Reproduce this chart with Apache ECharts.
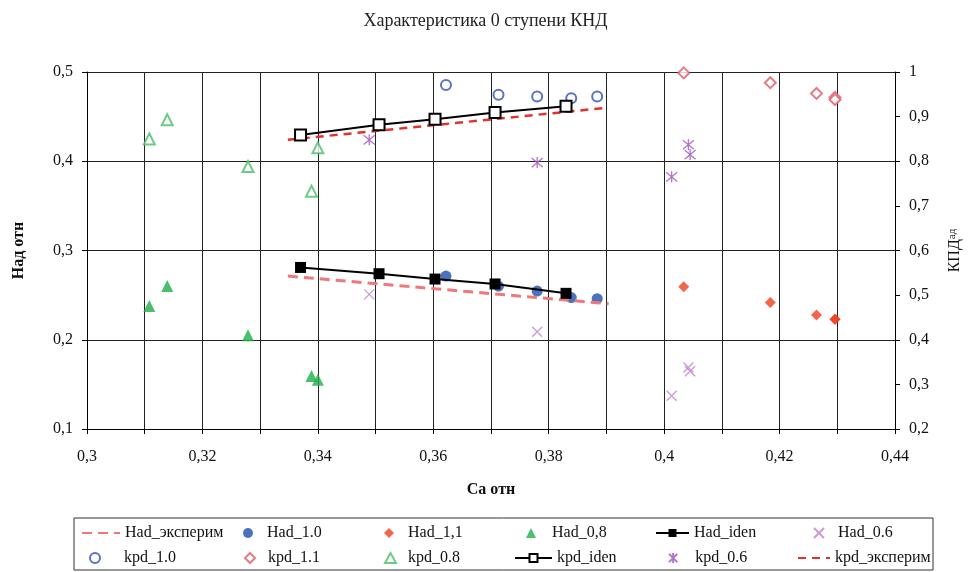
<!DOCTYPE html>
<html><head><meta charset="utf-8">
<script src="https://cdn.jsdelivr.net/npm/echarts@6/dist/echarts.min.js"></script>
<style>html,body{margin:0;padding:0;background:#fff}#c{width:971px;height:572px}</style>
</head><body><div id="c"></div>
<script>
// ---- texts ----
const titleText = 'Характеристика 0 ступени КНД';
const xAxisName = 'Са отн';
const yLeftName = 'Над отн';
const yRightName = 'КПД{s|ад}';

// ---- data (Ca отн, value) ----
const hadExpX = [0.3348, 0.3904];
const hadExpY = [0.2713, 0.2404];

const s10X = [0.3622, 0.3713, 0.3780, 0.3839, 0.3884];
const had10Y = [0.2713, 0.2600, 0.2545, 0.2472, 0.2460];
const kpd10Y = [0.971, 0.949, 0.945, 0.941, 0.945];

const s11X = [0.4034, 0.4184, 0.4264, 0.4296, 0.4296];
const had11Y = [0.2594, 0.2416, 0.2277, 0.2229, 0.2229];
const kpd11Y = [0.998, 0.976, 0.952, 0.943, 0.938];

const s08X = [0.3108, 0.3139, 0.3279, 0.3389, 0.3400];
const had08Y = [0.2378, 0.2601, 0.2050, 0.1595, 0.1551];
const kpd08Y = [0.850, 0.893, 0.788, 0.733, 0.830];

const idenX = [0.3370, 0.3506, 0.3603, 0.3707, 0.3830];
const hadIdenY = [0.2810, 0.2740, 0.2680, 0.2625, 0.2520];
const kpdIdenY = [0.859, 0.882, 0.894, 0.909, 0.923];

const s06X = [0.3489, 0.3780, 0.4013, 0.4042, 0.4045];
const had06Y = [0.2508, 0.2089, 0.1372, 0.1690, 0.1648];
const kpd06Y = [0.848, 0.797, 0.765, 0.837, 0.815];

const kpdExpX = [0.3348, 0.3894];
const kpdExpY = [0.848, 0.919];

const seriesNames = ['Had_эксперим','Had_1.0','Had_1,1','Had_0,8','Had_iden','Had_0.6',
                     'kpd_1.0','kpd_1.1','kpd_0.8','kpd_iden','kpd_0.6','kpd_эксперим'];

// ---- helpers ----
const pair = (xs, ys) => xs.map((x, i) => [x, ys[i]]);
const fmt = v => String(parseFloat(v.toFixed(4))).replace('.', ',');
const SERIF = 'Liberation Serif';
const xMark = 'path://M0 0L10 10M10 0L0 10';
const star = 'path://M0 0L10 10M10 0L0 10M5 -1L5 11';

function scatter(name, data, yi, symbol, size, color, extra) {
  return Object.assign({
    name, type: 'scatter', yAxisIndex: yi, data, symbol, symbolSize: size,
    itemStyle: { color: color }
  }, extra || {});
}

const series = [
  { name: seriesNames[0], type: 'line', yAxisIndex: 0, data: pair(hadExpX, hadExpY),
    symbol: 'none', lineStyle: { color: '#F07878', width: 3, type: [10, 6] }, itemStyle: { color: '#F07878' } },
  scatter(seriesNames[1], pair(s10X, had10Y), 0, 'circle', 11, '#1D4FAE'),
  scatter(seriesNames[2], pair(s11X, had11Y), 0, 'diamond', 11, '#F0401E'),
  scatter(seriesNames[3], pair(s08X, had08Y), 0, 'triangle', 12, '#1DAF48'),
  { name: seriesNames[4], type: 'line', yAxisIndex: 0, data: pair(idenX, hadIdenY),
    symbol: 'rect', symbolSize: 11, lineStyle: { color: '#000', width: 2 }, itemStyle: { color: '#000' } },
  scatter(seriesNames[5], pair(s06X, had06Y), 0, xMark, 10, '#C080D0',
    { itemStyle: { color: '#C080D0', borderColor: '#C080D0', borderWidth: 1.3 } }),
  scatter(seriesNames[6], pair(s10X, kpd10Y), 1, 'emptyCircle', 10, '#3050B0',
    { itemStyle: { color: '#3050B0', borderWidth: 1.3 } }),
  scatter(seriesNames[7], pair(s11X, kpd11Y), 1, 'emptyDiamond', 11, '#E05A68',
    { itemStyle: { color: '#E05A68', borderWidth: 1.3 } }),
  scatter(seriesNames[8], pair(s08X, kpd08Y), 1, 'emptyTriangle', 11, '#48BE68',
    { itemStyle: { color: '#48BE68', borderWidth: 1.5 } }),
  { name: seriesNames[9], type: 'line', yAxisIndex: 1, data: pair(idenX, kpdIdenY),
    symbol: 'emptyRect', symbolSize: 11, lineStyle: { color: '#000', width: 2 },
    itemStyle: { color: '#000', borderWidth: 1.2 } },
  scatter(seriesNames[10], pair(s06X, kpd06Y), 1, star, 11, '#A050C0',
    { itemStyle: { color: '#A050C0', borderColor: '#A050C0', borderWidth: 1.3 } }),
  { name: seriesNames[11], type: 'line', yAxisIndex: 1, data: pair(kpdExpX, kpdExpY),
    symbol: 'none', lineStyle: { color: '#E3302A', width: 2.5, type: [8, 6] }, itemStyle: { color: '#E3302A' } }
];

// legend layout: [textStartX, rowCenterY, iconStartX, iconWidth, iconHeight, hideSymbol]
const legendPos = [
  [124, 533, 81, 38, 10, true], [267, 533, 243, 10, 10], [408, 533, 384, 10, 10], [552, 533, 526, 10, 10],
  [693, 533, 655, 33, 10], [837, 533, 813, 10, 10],
  [123, 558, 89, 10, 10], [267, 558, 244, 10, 10], [407, 558, 384, 11, 10], [556, 558, 514, 37, 10],
  [695, 558, 668, 10, 10], [834, 558, 797, 32, 10, true]
];
const legends = seriesNames.map((n, i) => {
  const [tx, cy, ix, w, h, hide] = legendPos[i];
  const lg = {
    data: [n], left: ix, top: cy - 8, itemWidth: w, itemHeight: h, padding: 0,
    selectedMode: false,
    textStyle: { fontFamily: SERIF, fontSize: 16, color: '#111', lineHeight: 16,
      padding: [0, 0, 0, Math.max(0, tx - (ix + w + 5))] }
  };
  if (hide) lg.itemStyle = { opacity: 0 };
  return lg;
});

const axisFont = { fontFamily: SERIF, fontSize: 16, color: '#111' };

const option = {
  animation: false,
  backgroundColor: '#fff',
  title: { text: titleText, left: 'center', top: 7,
    textStyle: { fontFamily: SERIF, fontSize: 18, fontWeight: 'normal', color: '#222' } },
  legend: legends,
  grid: { left: 87, right: 72, top: 72, bottom: 143 },
  xAxis: {
    type: 'value', min: 0.3, max: 0.44, interval: 0.01,
    name: xAxisName, nameLocation: 'middle', nameGap: 53,
    nameTextStyle: { fontFamily: SERIF, fontSize: 16, fontWeight: 'bold', color: '#111' },
    axisLine: { show: true, onZero: false, lineStyle: { color: '#000', width: 1 } },
    axisTick: { show: true, length: 5, lineStyle: { color: '#000' } },
    axisLabel: Object.assign({ margin: 20, formatter: v => (Math.round(v * 100) % 2 === 0 ? fmt(v) : '') }, axisFont),
    splitLine: { show: true, lineStyle: { color: '#222', width: 1 } }
  },
  yAxis: [
    { type: 'value', min: 0.1, max: 0.5, interval: 0.1, position: 'left',
      name: yLeftName, nameLocation: 'middle', nameGap: 60, nameRotate: 90,
      nameTextStyle: { fontFamily: SERIF, fontSize: 16, fontWeight: 'bold', color: '#111' },
      axisLine: { show: true, lineStyle: { color: '#000' } },
      axisTick: { show: true, length: 5, lineStyle: { color: '#000' } },
      axisLabel: Object.assign({ margin: 14, formatter: fmt }, axisFont),
      splitLine: { show: true, lineStyle: { color: '#222', width: 1 } } },
    { type: 'value', min: 0.2, max: 1, interval: 0.1, position: 'right',
      name: yRightName, nameLocation: 'middle', nameGap: 52, nameRotate: 90,
      nameTextStyle: { fontFamily: SERIF, fontSize: 16, color: '#111',
        rich: { s: { fontFamily: SERIF, fontSize: 11, color: '#111', verticalAlign: 'top' } } },
      axisLine: { show: true, lineStyle: { color: '#000' } },
      axisTick: { show: true, length: 5, lineStyle: { color: '#000' } },
      axisLabel: Object.assign({ margin: 14, formatter: fmt }, axisFont),
      splitLine: { show: false } }
  ],
  graphic: [
    { type: 'rect', shape: { x: 74, y: 518, width: 859, height: 52 },
      style: { fill: 'none', stroke: '#333', lineWidth: 1 }, z: -1 }
  ],
  series
};

const chart = echarts.init(document.getElementById('c'), null, { renderer: 'canvas' });
chart.setOption(option);
</script>
</body></html>
